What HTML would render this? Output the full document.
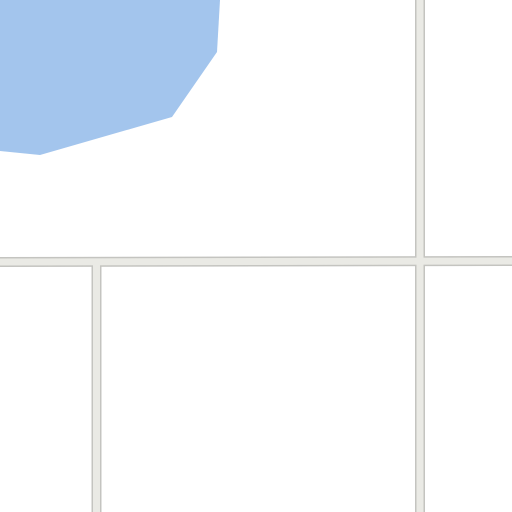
<!DOCTYPE html>
<html><head><meta charset="utf-8"><style>
html,body{margin:0;padding:0;background:#fff;}
svg{display:block;}
</style></head><body>
<svg width="512" height="512" viewBox="0 0 512 512">
<rect width="512" height="512" fill="#ffffff"/>
<polygon points="0,0 220,0 217,52 172,117 40,155 0,151" fill="#a3c5ed"/>
<g stroke="#c4c4c0" stroke-width="10" fill="none">
<line x1="0" y1="262" x2="512" y2="261"/>
<line x1="420" y1="0" x2="420" y2="512"/>
<line x1="96.5" y1="262" x2="96.5" y2="512"/>
</g>
<g stroke="#eaeae5" stroke-width="7" fill="none">
<line x1="0" y1="262" x2="512" y2="261"/>
<line x1="420" y1="0" x2="420" y2="512"/>
<line x1="96.5" y1="262" x2="96.5" y2="512"/>
</g>
</svg>
</body></html>
